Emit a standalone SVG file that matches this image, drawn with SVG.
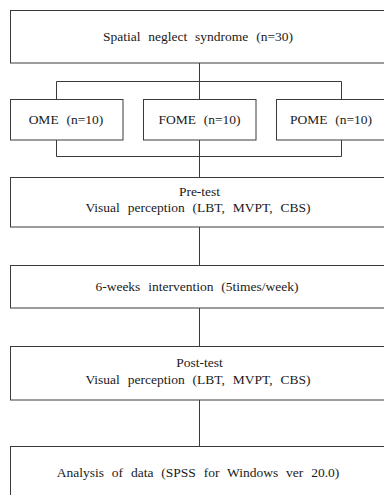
<svg xmlns="http://www.w3.org/2000/svg" width="384" height="495" viewBox="0 0 384 495">
<style>
.box{fill:#fff;stroke:#3a3a3a;stroke-width:1}
.ln{fill:none;stroke:#3a3a3a;stroke-width:1}
.t{font-family:"Liberation Serif","Times New Roman",serif;font-size:13.5px;fill:#1a1a1a;text-anchor:middle;word-spacing:4.5px}
</style>
<rect width="384" height="495" fill="#fff"/>
<g id="connectors">
<path class="ln" d="M199.5 63V81.5M56.5 81.5H341.5M56.5 81.5V99M341.5 81.5V99M199.5 81.5V99"/>
<path class="ln" d="M56.5 140V156.5H341.5V140M199.5 140V177"/>
<path class="ln" d="M199.5 227V265M199.5 308V346M199.5 400V446"/>
</g>
<g id="n-spatial"><rect class="box" x="10.5" y="10.5" width="390" height="52.5"/><text class="t" x="198" y="41">Spatial neglect syndrome (n=30)</text></g>
<g id="n-ome"><rect class="box" x="10.5" y="99.5" width="112.5" height="40.5"/><text class="t" x="66" y="124">OME (n=10)</text></g>
<g id="n-fome"><rect class="box" x="143.5" y="99.5" width="112.5" height="40.5"/><text class="t" x="199.5" y="124">FOME (n=10)</text></g>
<g id="n-pome"><rect class="box" x="276.5" y="99.5" width="120" height="40.5"/><text class="t" x="331" y="124">POME (n=10)</text></g>
<g id="n-pretest"><rect class="box" x="10.5" y="177.5" width="390" height="49.5"/><text class="t" x="199.5" y="196">Pre-test</text><text class="t" x="198" y="212">Visual perception (LBT, MVPT, CBS)</text></g>
<g id="n-intervention"><rect class="box" x="10.5" y="265.5" width="390" height="42.5"/><text class="t" x="197" y="291">6-weeks intervention (5times/week)</text></g>
<g id="n-posttest"><rect class="box" x="10.5" y="346.5" width="390" height="53.5"/><text class="t" x="199.5" y="367">Post-test</text><text class="t" x="198" y="384">Visual perception (LBT, MVPT, CBS)</text></g>
<g id="n-analysis"><rect class="box" x="10.5" y="446.5" width="390" height="60"/><text class="t" x="198" y="477">Analysis of data (SPSS for Windows ver 20.0)</text></g>
</svg>
